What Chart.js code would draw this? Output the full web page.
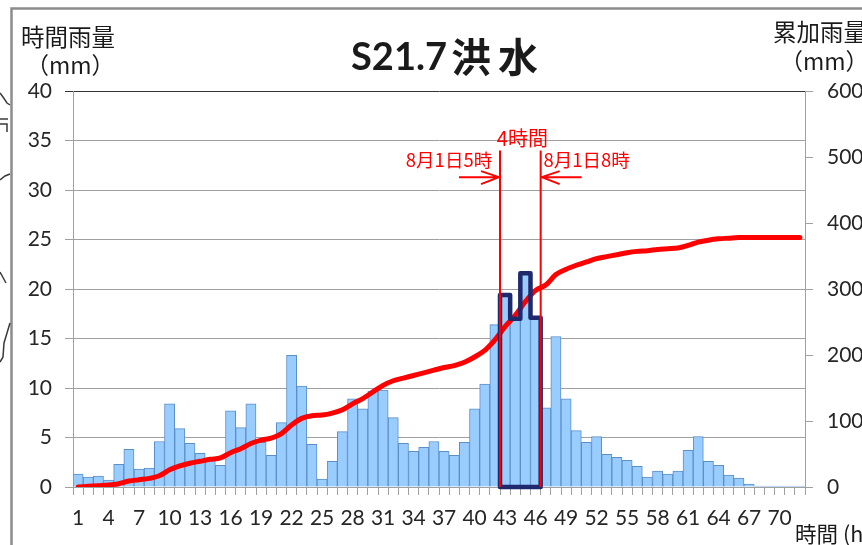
<!DOCTYPE html>
<html>
<head>
<meta charset="utf-8">
<style>
  html, body { margin: 0; padding: 0; background: #fff; overflow: hidden; }
  #wrap { position: relative; width: 862px; height: 545px; }
</style>
<script src="https://cdn.jsdelivr.net/npm/chart.js@4"></script>
</head>
<body>
<div id="wrap"><canvas id="rainChart" width="862" height="545"></canvas></div>
<script>
// S21.7 flood hyetograph
const hours = [
  1, 2, 3, 4, 5, 6, 7, 8, 9, 10, 11, 12, 13, 14, 15, 16, 17, 18,
  19, 20, 21, 22, 23, 24, 25, 26, 27, 28, 29, 30, 31, 32, 33, 34, 35, 36,
  37, 38, 39, 40, 41, 42, 43, 44, 45, 46, 47, 48, 49, 50, 51, 52, 53, 54,
  55, 56, 57, 58, 59, 60, 61, 62, 63, 64, 65, 66, 67, 68, 69, 70, 71, 72
];
const hourlyRain = [
  1.3, 1.0, 1.1, 0.7, 2.3, 3.8, 1.8, 1.9, 4.6, 8.4, 5.9, 4.4, 3.4, 2.9, 2.2, 7.7, 6.0, 8.4,
  4.5, 3.2, 6.5, 13.3, 10.2, 4.3, 0.8, 2.6, 5.6, 8.9, 7.9, 9.7, 9.8, 7.0, 4.4, 3.6, 4.0, 4.6,
  3.6, 3.2, 4.5, 7.9, 10.4, 16.4, 19.4, 17.0, 21.6, 17.1, 8.0, 15.2, 8.9, 5.7, 4.5, 5.1, 3.3, 3.0,
  2.7, 2.1, 1.0, 1.6, 1.3, 1.6, 3.7, 5.1, 2.6, 2.2, 1.2, 0.9, 0.3, 0.1, 0.1, 0.1, 0.1, 0.1
];
const cumulativeRain = [
  0, 1, 2, 3, 5, 9, 11, 13, 17, 26, 32, 36, 39, 42, 44, 52, 58, 66,
  71, 74, 81, 94, 104, 108, 109, 112, 117, 126, 134, 144, 154, 161, 165, 169, 173, 177,
  181, 184, 189, 197, 207, 223, 243, 260, 281, 298, 306, 322, 330, 336, 341, 346, 349, 352,
  355, 357, 358, 360, 361, 362, 366, 371, 374, 376, 377, 378, 378, 378, 378, 378, 378, 378
];
const rainTicks = [0, 5, 10, 15, 20, 25, 30, 35, 40];
const cumulativeTicks = [0, 100, 200, 300, 400, 500, 600];
const peakHours = [43, 44, 45, 46];

const LATIN = "Lato, 'Noto Sans CJK JP', sans-serif";
const CJK = "'Noto Sans CJK JP', sans-serif";
const TEXT_COLOR = '#262626';
const GRID_COLOR = '#a0a0a0';

function drawArrow(ctx, fromX, toX, y) {
    const dir = toX > fromX ? -1 : 1;
    ctx.beginPath();
    ctx.moveTo(fromX, y);
    ctx.lineTo(toX, y);
    ctx.moveTo(toX + dir * 18, y - 6);
    ctx.lineTo(toX, y);
    ctx.lineTo(toX + dir * 18, y + 7);
    ctx.stroke();
}

function drawScrap(ctx, points) {
    ctx.beginPath();
    points.forEach((p, i) => i ? ctx.lineTo(p[0], p[1]) : ctx.moveTo(p[0], p[1]));
    ctx.stroke();
}

// frame, map scraps and axis captions behind the chart
const backdrop = {
    id: 'backdrop',
    beforeDraw(chart) {
        const ctx = chart.ctx;
        ctx.save();
        ctx.strokeStyle = '#8c8c8c';
        ctx.lineWidth = 2.5;
        ctx.beginPath();
        ctx.moveTo(11.5, 545);
        ctx.lineTo(11.5, 8.5);
        ctx.lineTo(862, 8.5);
        ctx.stroke();

        // bits of the map that sit behind the chart frame
        ctx.strokeStyle = '#3a3a3a';
        ctx.lineWidth = 1.5;
        drawScrap(ctx, [[0, 93], [3, 97], [7, 103], [10, 105]]);
        drawScrap(ctx, [[0, 119], [8, 119]]);
        drawScrap(ctx, [[0, 124], [7, 124], [7, 132]]);
        drawScrap(ctx, [[0, 180], [5, 176], [10, 174]]);
        drawScrap(ctx, [[0, 272], [6, 283]]);
        drawScrap(ctx, [[10, 323], [7, 333], [4, 343], [3, 357], [0, 362]]);

        ctx.fillStyle = '#1a1a1a';
        ctx.textBaseline = 'middle';
        ctx.textAlign = 'left';
        ctx.font = '23.5px ' + CJK;
        ctx.fillText('時間雨量', 21, 37);
        ctx.fillText('累加雨量', 773, 32);
        ctx.font = '23px ' + CJK;
        ctx.fillText('（mm）', 26, 65);
        ctx.fillText('（mm）', 780, 61);
        ctx.font = '21.5px ' + CJK;
        ctx.fillText('時間', 795, 534);
        ctx.fillText('(h)', 843, 534);

        ctx.font = "bold 38px Lato, 'Noto Sans CJK JP', sans-serif";
        ctx.fillText('S21.7', 351, 58);
        ctx.font = "bold 40px " + CJK;
        ctx.fillText('洪', 451, 57);
        ctx.fillText('水', 498, 57);
        ctx.restore();
    }
};

// navy outline of the four peak hours and the red notes around it
const peakNotes = {
    id: 'peakNotes',
    afterDatasetsDraw(chart) {
        const ctx = chart.ctx;
        const xs = chart.scales.x;
        const ys = chart.scales.yRain;
        const half = (xs.getPixelForValue(1) - xs.getPixelForValue(0)) / 2;
        const left = xs.getPixelForValue(peakHours[0] - 1) - half;
        const right = xs.getPixelForValue(peakHours[peakHours.length - 1] - 1) + half;
        const base = ys.getPixelForValue(0);

        ctx.save();
        ctx.strokeStyle = '#1f2a6e';
        ctx.lineWidth = 4.5;
        ctx.lineJoin = 'round';
        ctx.beginPath();
        ctx.moveTo(left, base);
        peakHours.forEach(h => {
            const cx = xs.getPixelForValue(h - 1);
            const y = ys.getPixelForValue(hourlyRain[h - 1]);
            ctx.lineTo(cx - half, y);
            ctx.lineTo(cx + half, y);
        });
        ctx.lineTo(right, base);
        ctx.closePath();
        ctx.stroke();

        ctx.strokeStyle = '#ff0000';
        ctx.fillStyle = '#ff0000';
        ctx.lineWidth = 2;
        const top = ys.getPixelForValue(34);
        [left, right].forEach(x => {
            ctx.beginPath();
            ctx.moveTo(x, top);
            ctx.lineTo(x, base);
            ctx.stroke();
        });
        const arrowY = ys.getPixelForValue(31.3);
        drawArrow(ctx, left - 41, left - 1, arrowY);
        drawArrow(ctx, right + 41, right + 1, arrowY);

        ctx.textBaseline = 'middle';
        ctx.textAlign = 'center';
        ctx.font = '20px ' + CJK;
        ctx.fillText('4時間', (left + right) / 2 + 2, ys.getPixelForValue(35.2));
        ctx.font = '18.5px ' + CJK;
        ctx.fillText('8月1日5時', left - 51, ys.getPixelForValue(33));
        ctx.fillText('8月1日8時', right + 46, ys.getPixelForValue(33));
        ctx.restore();
    }
};

new Chart(document.getElementById('rainChart'), {
    data: {
        labels: hours,
        datasets: [
            {
                type: 'line',
                data: cumulativeRain,
                yAxisID: 'yCumulative',
                borderColor: '#ff0000',
                borderWidth: 5,
                pointRadius: 0,
                cubicInterpolationMode: 'monotone',
                borderCapStyle: 'round',
                order: 1
            },
            {
                type: 'bar',
                data: hourlyRain,
                yAxisID: 'yRain',
                backgroundColor: '#99ccff',
                borderColor: '#5b8fc9',
                borderWidth: 1,
                barPercentage: 1,
                categoryPercentage: 1,
                order: 2
            }
        ]
    },
    options: {
        responsive: false,
        animation: false,
        layout: { padding: { top: 91 } },
        plugins: { legend: { display: false }, tooltip: { enabled: false } },
        scales: {
            x: {
                grid: { drawOnChartArea: false, color: GRID_COLOR, tickLength: 8 },
                border: { color: GRID_COLOR },
                ticks: {
                    autoSkip: false,
                    maxRotation: 0,
                    padding: 11,
                    color: TEXT_COLOR,
                    font: { family: LATIN, size: 21 },
                    callback(value, index) { return index % 3 === 0 ? hours[index] : ''; }
                },
                afterFit(axis) { axis.height = 58; }
            },
            yRain: {
                position: 'left',
                min: 0,
                max: 40,
                afterBuildTicks(axis) { axis.ticks = rainTicks.map(v => ({ value: v })); },
                grid: {
                    color: ctx => ctx.tick && ctx.tick.value === 40 ? '#333333' : GRID_COLOR,
                    tickLength: 8
                },
                border: { color: GRID_COLOR },
                ticks: { padding: 13, color: TEXT_COLOR, font: { family: LATIN, size: 21 } },
                afterFit(axis) { axis.width = 73; }
            },
            yCumulative: {
                position: 'right',
                min: 0,
                max: 600,
                afterBuildTicks(axis) { axis.ticks = cumulativeTicks.map(v => ({ value: v })); },
                grid: { drawOnChartArea: false, color: GRID_COLOR, tickLength: 8 },
                border: { color: GRID_COLOR },
                ticks: { padding: 14, color: TEXT_COLOR, font: { family: LATIN, size: 21 } },
                afterFit(axis) { axis.width = 57; }
            }
        }
    },
    plugins: [backdrop, peakNotes]
});
</script>
</body>
</html>
